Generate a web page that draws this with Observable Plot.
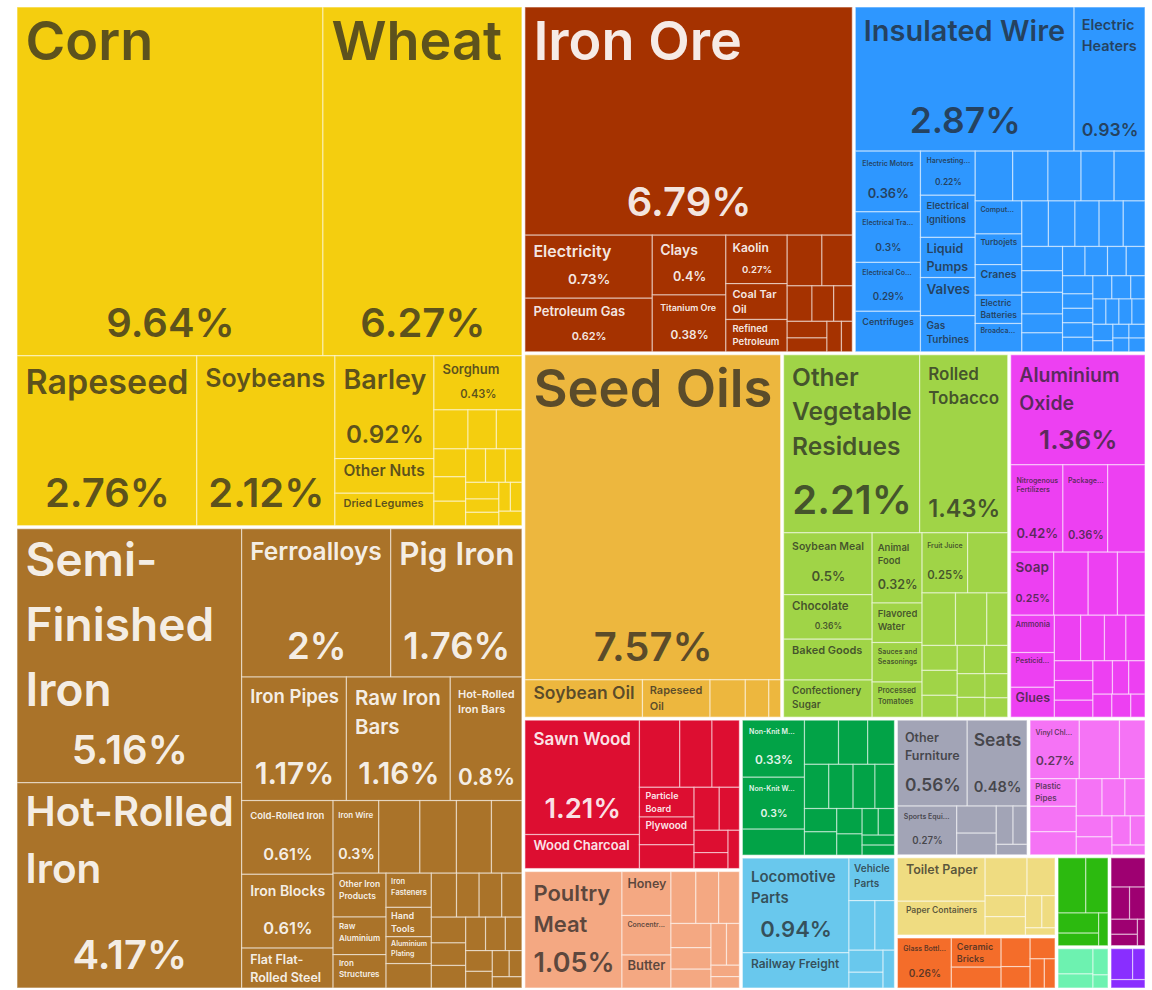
<!DOCTYPE html>
<html><head><meta charset="utf-8">
<script src="https://cdn.jsdelivr.net/npm/d3@7"></script>
<script src="https://cdn.jsdelivr.net/npm/@observablehq/plot@0.6"></script>
<style>body{margin:0;background:#fff}</style>
</head><body><div id="chart"></div>
<script>
// ---------- DATA: product shares (%) by section ----------
const vegetableProducts = [["Corn",9.64],["Wheat",6.27],["Rapeseed",2.76],["Soybeans",2.12],["Barley",0.92],["Other Nuts",0.31],["Dried Legumes",0.29],["Sorghum",0.43],["Peas",0.12],["Frozen Vegetables",0.10],["Oats",0.09],["Buckwheat",0.08],["Wheat Flours",0.07],["Rye",0.07],["Malt",0.06],["Sowing Seeds",0.06],["Onions",0.05],["Frozen Fruits",0.05],["Apples",0.04],["Cereal Meals",0.04],["Millet",0.03],["Dried Fruits",0.03],["Berries",0.03]];
const metals = [["Semi-Finished Iron",5.16],["Hot-Rolled Iron",4.17],["Ferroalloys",2.00],["Pig Iron",1.76],["Iron Pipes",1.17],["Raw Iron Bars",1.16],["Hot-Rolled Iron Bars",0.80],["Cold-Rolled Iron",0.61],["Iron Blocks",0.61],["Flat Flat-Rolled Steel",0.33],["Iron Wire",0.30],["Scrap Iron",0.27],["Coated Flat-Rolled Iron",0.24],["Iron Sheet Piling",0.23],["Iron Railway Products",0.20],["Other Iron Products",0.21],["Raw Aluminium",0.18],["Iron Structures",0.16],["Iron Fasteners",0.14],["Hand Tools",0.12],["Aluminium Plating",0.11],["Copper Wire",0.10],["Stainless Steel Ingots",0.10],["Iron Pipe Fittings",0.09],["Aluminium Bars",0.09],["Iron Cloth",0.08],["Scrap Copper",0.08],["Iron Chain",0.07],["Scrap Aluminium",0.07],["Raw Zinc",0.06],["Iron Springs",0.06],["Aluminium Foil",0.05],["Iron Stovetops",0.05],["Metal Molds",0.04],["Padlocks",0.04],["Raw Lead",0.03],["Iron Nails",0.03]];
const mineralProducts = [["Iron Ore",6.79],["Electricity",0.73],["Petroleum Gas",0.62],["Clays",0.40],["Titanium Ore",0.38],["Kaolin",0.27],["Coal Tar Oil",0.20],["Refined Petroleum",0.18],["Manganese Ore",0.16],["Coke",0.14],["Sand",0.08],["Crude Petroleum",0.07],["Coal Briquettes",0.06],["Gypsum",0.06],["Limestone",0.05],["Cement",0.04],["Salt",0.03]];
const machines = [["Insulated Wire",2.87],["Electric Heaters",0.93],["Electric Motors",0.36],["Electrical Transformers",0.30],["Electrical Control Boards",0.29],["Centrifuges",0.24],["Harvesting Machinery",0.22],["Electrical Ignitions",0.21],["Liquid Pumps",0.20],["Valves",0.19],["Gas Turbines",0.18],["Engine Parts",0.17],["Air Pumps",0.16],["Low-voltage Protection Equipment",0.15],["Refrigerators",0.15],["Ball Bearings",0.14],["Computers",0.14],["Turbojets",0.13],["Cranes",0.13],["Electric Batteries",0.12],["Broadcasting Equipment",0.12],["Other Heating Machinery",0.11],["Excavation Machinery",0.11],["Soil Preparation Machinery",0.10],["Telephones",0.10],["Industrial Printers",0.09],["Machinery Having Individual Functions",0.09],["Spark-Ignition Engines",0.08],["Electric Filament",0.08],["Metalworking Machines",0.07],["Electric Soldering Equipment",0.07],["Washing Machines",0.06],["Interchangeable Tool Parts",0.06],["Semiconductor Devices",0.05],["Integrated Circuits",0.05],["Textile Machinery",0.05],["Transmissions",0.04],["Electric Motor Parts",0.04],["Electric Furnaces",0.04],["Dairy Machinery",0.04],["Scales",0.04],["Pulley Systems",0.04],["Fork-Lifts",0.03],["Sewing Machines",0.03],["Lifting Machinery",0.03],["Capacitors",0.03],["Resistors",0.03],["Microphones and Headphones",0.03],["Video Displays",0.02],["Office Machine Parts",0.02],["Kitchen Machinery",0.02],["Packing Machines",0.02],["Water Heaters",0.02]];
const biProducts = [["Seed Oils",7.57],["Soybean Oil",0.40],["Rapeseed Oil",0.23],["Margarine",0.12],["Animal Fats",0.08],["Glycerol",0.04]];
const foodstuffs = [["Other Vegetable Residues",2.21],["Rolled Tobacco",1.43],["Soybean Meal",0.50],["Chocolate",0.36],["Baked Goods",0.33],["Confectionery Sugar",0.30],["Animal Food",0.32],["Flavored Water",0.18],["Sauces and Seasonings",0.18],["Processed Tomatoes",0.16],["Fruit Juice",0.25],["Beer",0.22],["Hard Liquor",0.16],["Raw Sugar",0.15],["Wine",0.10],["Processed Fish",0.08],["Pasta",0.08],["Prepared Cereals",0.07],["Yeast",0.07],["Ice Cream",0.06],["Coffee and Tea Extracts",0.06],["Other Edible Preparations",0.05],["Molasses",0.05],["Vinegar",0.04]];
const chemicalProducts = [["Aluminium Oxide",1.36],["Nitrogenous Fertilizers",0.42],["Packaged Medicaments",0.36],["Mixed Mineral or Chemical Fertilizers",0.30],["Soap",0.25],["Cleaning Products",0.20],["Hair Products",0.17],["Beauty Products",0.16],["Ammonia",0.15],["Pesticides",0.14],["Glues",0.12],["Paints",0.11],["Titanium Oxides",0.10],["Vaccines",0.09],["Carbonates",0.08],["Activated Carbon",0.07],["Acyclic Alcohols",0.07],["Perfumes",0.06],["Other Inorganic Acids",0.06],["Phosphatic Fertilizers",0.05],["Lubricating Products",0.05],["Ink",0.04],["Sulfates",0.04],["Carbides",0.03]];
const woodProducts = [["Sawn Wood",1.21],["Wood Charcoal",0.36],["Fuel Wood",0.25],["Wood Veneer",0.20],["Veneer Sheets",0.17],["Particle Board",0.15],["Plywood",0.14],["Wooden Builders' Joinery",0.12],["Wood Fiberboard",0.10],["Wood Crates",0.08],["Rough Wood",0.07],["Wood Carpentry",0.05],["Other Wood Articles",0.04]];
const animalProducts = [["Poultry Meat",1.05],["Honey",0.20],["Concentrated Milk",0.18],["Butter",0.15],["Cheese",0.12],["Frozen Bovine Meat",0.11],["Eggs",0.10],["Fish Fillets",0.09],["Pig Meat",0.08],["Whey",0.07],["Edible Offal",0.06],["Milk",0.05],["Frozen Fish",0.03],["Bird Feathers",0.03]];
const textiles = [["Non-Knit Men's Suits",0.33],["Non-Knit Women's Suits",0.30],["Non-Knit Men's Coats",0.15],["Knit T-shirts",0.14],["Non-Knit Women's Coats",0.12],["Non-Knit Women's Undergarments",0.11],["Knit Sweaters",0.10],["Non-Knit Men's Shirts",0.10],["Other Clothing Accessories",0.09],["Felt",0.08],["Synthetic Fabrics",0.07],["Tarpaulins",0.07],["Knit Women's Suits",0.06],["Raw Cotton",0.05],["Babies' Garments",0.04],["Wadding",0.04],["Flax Yarn",0.03],["Twine",0.03]];
const transportation = [["Locomotive Parts",0.94],["Railway Freight",0.35],["Vehicle Parts",0.18],["Railway Passenger Cars",0.12],["Trailers",0.09],["Aircraft Parts",0.07],["Ships",0.05],["Bicycles",0.04]];
const miscellaneous = [["Other Furniture",0.56],["Seats",0.48],["Sports Equipment",0.27],["Lighting Fixtures",0.10],["Mattresses",0.08],["Brooms",0.06],["Prefabricated Buildings",0.05],["Pens",0.03]];
const plasticsRubbers = [["Vinyl Chloride Polymers",0.27],["Plastic Lids",0.22],["Rubber Tires",0.14],["Plastic Pipes",0.12],["Raw Plastic Sheeting",0.11],["Ethylene Polymers",0.10],["Other Plastic Sheetings",0.09],["Plastic Houseware",0.08],["Rubber Belts",0.07],["Propylene Polymers",0.07],["Plastic Wash Basins",0.06],["Rubber Pipes",0.05],["Other Rubber Products",0.04],["Styrene Polymers",0.03]];
const paperGoods = [["Toilet Paper",0.36],["Paper Containers",0.28],["Kraft Paper",0.15],["Paper Labels",0.10],["Coated Paper",0.08],["Paper Notebooks",0.07],["Wallpaper",0.05],["Newspapers",0.04],["Other Paper",0.02]];
const stoneGlass = [["Glass Bottles",0.26],["Ceramic Bricks",0.14],["Float Glass",0.10],["Glass Fibers",0.08],["Building Stone",0.06],["Ceramic Tiles",0.05],["Cement Articles",0.04],["Mica",0.03]];
const footwear = [["Rubber Footwear",0.15],["Leather Footwear",0.12],["Textile Footwear",0.08],["Footwear Parts",0.05],["Hats",0.03]];
const instruments = [["Medical Instruments",0.10],["Orthopedic Appliances",0.06],["Other Measuring Instruments",0.05],["Electricity Meters",0.04],["Optical Fibers",0.03],["Glasses",0.02]];
const animalHides = [["Tanned Bovine Hides",0.09],["Raw Hides",0.05],["Handbags",0.04],["Furskins",0.02]];
const preciousMetals = [["Jewellery",0.07],["Gold",0.04],["Silver",0.03]];

// ---------- STYLE ----------
const sectionStyle = {
  "Vegetable Products": {fill: "#F4CE0F", text: "dark"},
  "Metals": {fill: "#AA7329", text: "light"},
  "Mineral Products": {fill: "#A53200", text: "light"},
  "Machines": {fill: "#2E97FF", text: "dark"},
  "Animal and Vegetable Bi-Products": {fill: "#EDB73E", text: "dark"},
  "Foodstuffs": {fill: "#A0D447", text: "dark"},
  "Chemical Products": {fill: "#ED40F2", text: "dark"},
  "Wood Products": {fill: "#DD0E31", text: "light"},
  "Animal Products": {fill: "#F4A882", text: "dark"},
  "Textiles": {fill: "#02A347", text: "light"},
  "Transportation": {fill: "#69C8ED", text: "dark"},
  "Miscellaneous": {fill: "#A2A4B6", text: "dark"},
  "Plastics and Rubbers": {fill: "#F573F5", text: "dark"},
  "Paper Goods": {fill: "#EFDC81", text: "dark"},
  "Stone and Glass": {fill: "#F46D2A", text: "dark"},
  "Footwear and Headwear": {fill: "#2CBA0F", text: "light"},
  "Instruments": {fill: "#9E0071", text: "light"},
  "Animal Hides": {fill: "#6DF2B0", text: "dark"},
  "Precious Metals": {fill: "#892EFF", text: "light"}
};

// ---------- LAYOUT PLAN (nesting / split directions) ----------
const sections = [
  {name: "Vegetable Products", items: vegetableProducts, plan: ["v", ["h", 2], ["h", 2, ["v", 3], ["v", 1, ["sq", "*"]]]]},
  {name: "Metals", items: metals, plan: ["h", ["v", 2], ["v", ["h", 2], ["h", 3], ["h", ["v", 3], ["v", ["h", 5], ["sq", "*"]]]]]},
  {name: "Mineral Products", items: mineralProducts, plan: ["v", 1, ["h", ["v", 2], ["v", 2], ["v", 3], ["sq", "*"]]]},
  {name: "Machines", items: machines, plan: ["v", ["h", 2], ["sq", "*"]]},
  {name: "Animal and Vegetable Bi-Products", items: biProducts, plan: ["v", 1, ["h", "*"]]},
  {name: "Foodstuffs", items: foodstuffs, plan: ["v", ["h", 2], ["h", ["v", 4], ["v", 4], ["sq", "*"]]]},
  {name: "Chemical Products", items: chemicalProducts, plan: ["v", 1, ["h", 3], ["sq", "*"]]},
  {name: "Wood Products", items: woodProducts, plan: ["h", ["v", 2], ["sq", "*"]]},
  {name: "Animal Products", items: animalProducts, plan: ["h", 1, ["sq", "*"]]},
  {name: "Textiles", items: textiles, plan: ["h", ["v", 3], ["sq", "*"]]},
  {name: "Transportation", items: transportation, plan: ["h", ["v", 2], ["sq", "*"]]},
  {name: "Miscellaneous", items: miscellaneous, plan: ["v", ["h", 2], ["h", 1, ["sq", "*"]]]},
  {name: "Plastics and Rubbers", items: plasticsRubbers, plan: ["v", ["h", 3], ["sq", "*"]]},
  {name: "Paper Goods", items: paperGoods, plan: ["sq", "*"]},
  {name: "Stone and Glass", items: stoneGlass, plan: ["h", 1, ["sq", "*"]]},
  {name: "Footwear and Headwear", items: footwear, plan: ["sq", "*"]},
  {name: "Instruments", items: instruments, plan: ["sq", "*"]},
  {name: "Animal Hides", items: animalHides, plan: ["sq", "*"]},
  {name: "Precious Metals", items: preciousMetals, plan: ["sq", "*"]}
];
const topPlan = ["h",
  ["v", "Vegetable Products", "Metals"],
  ["v",
    ["h", "Mineral Products", "Machines"],
    ["h", "Animal and Vegetable Bi-Products", "Foodstuffs", "Chemical Products"],
    ["h",
      ["v", "Wood Products", "Animal Products"],
      ["v", "Textiles", "Transportation"],
      ["v",
        ["h", "Miscellaneous", "Plastics and Rubbers"],
        ["h", ["v", "Paper Goods", "Stone and Glass"],
              ["h", ["v", "Footwear and Headwear", "Animal Hides"], ["v", "Instruments", "Precious Metals"]]]]]]];

const secByName = Object.fromEntries(sections.map(s => [s.name, s]));
function leafOf(sec, i) { return {kind: "leaf", section: sec.name, name: sec.items[i][0], value: sec.items[i][1]}; }
function buildPlan(spec, sec, st) {
  const [dir, ...kids] = spec; const children = [];
  for (const k of kids) {
    if (typeof k === "number") for (let j = 0; j < k; j++) children.push(leafOf(sec, st.i++));
    else if (k === "*") while (st.i < sec.items.length) children.push(leafOf(sec, st.i++));
    else children.push(buildPlan(k, sec, st));
  }
  return {kind: "sub", dir, children};
}
function buildLayout(spec) {
  if (typeof spec === "string") { const n = buildPlan(secByName[spec].plan, secByName[spec], {i: 0}); n.kind = "section"; n.section = spec; return n; }
  const [dir, ...kids] = spec;
  return {kind: "layout", dir, children: kids.map(buildLayout)};
}
const tree = buildLayout(topPlan);

const W = 1128, H = 981, X0 = 17, Y0 = 7;
function tile(node, x0, y0, x1, y1) {
  const d = node.data.dir;
  if (d === "h") d3.treemapDice(node, x0, y0, x1, y1);
  else if (d === "v") d3.treemapSlice(node, x0, y0, x1, y1);
  else d3.treemapSquarify(node, x0, y0, x1, y1);
}
const root = d3.hierarchy(tree).sum(d => d.kind === "leaf" ? d.value : 0);
d3.treemap().size([W, H]).round(false).tile(tile)
  .paddingInner(n => n.data.kind === "layout" ? 3 : 0)(root);
const leaves = root.leaves();

// ---------- LABEL FITTING ----------
const FONT = "Inter, 'DejaVu Sans', sans-serif", WEIGHT = 600;
const ctx = document.createElement("canvas").getContext("2d");
function tw(s, f) { ctx.font = `${WEIGHT} ${f}px ${FONT}`; return ctx.measureText(s).width; }
const LH = 1.42, MINF = 7, NAME_MAX = 54, SHARE_MAX = 40, WRAP_PENALTY = 0.78;
function wrap(name, f, maxW) {
  const toks = [];
  name.split(" ").forEach((w, i) => w.split(/(?<=-)/).forEach((p, j) => toks.push({p, sp: i > 0 && j === 0})));
  const lines = []; let cur = "";
  for (const {p, sp} of toks) {
    if (tw(p, f) > maxW) return null;
    const cand = cur === "" ? p : cur + (sp ? " " : "") + p;
    if (cur === "" || tw(cand, f) <= maxW) cur = cand;
    else { lines.push(cur); cur = p; }
  }
  lines.push(cur);
  return lines;
}
const textH = (n, f) => f * (1.0 + LH * (n - 1));
const fmt = v => `${+v.toFixed(2)}%`;
const nameLabels = [], shareLabels = [];
for (const l of leaves) {
  const w = l.x1 - l.x0, h = l.y1 - l.y0;
  if (w < 42 || h < 26) continue;
  const st = sectionStyle[l.data.section];
  const color = st.text === "dark" ? "#222" : "#fff";
  const op = st.text === "dark" ? 0.72 : 0.9;
  const padX = Math.min(8, w * 0.1), maxW = w - 2 * padX;
  const padTop = Math.min(12, h * 0.15);
  const share = fmt(l.data.value);
  let showShare = h >= 44, sf = 0;
  if (showShare) { sf = Math.min(SHARE_MAX, 0.27 * h - 3.5, maxW / tw(share, 1)); if (sf < MINF) showShare = false; }
  const sPad = 12 * Math.min(1, h / 60);
  const availH = h - padTop - (showShare ? sf + 2 * sPad : 3);
  let best = null, bestScore = -1;
  for (let f = NAME_MAX; f >= MINF; f -= 0.5) {
    const lines = wrap(l.data.name, f, maxW);
    if (lines && textH(lines.length, f) <= availH) {
      const score = f * Math.pow(WRAP_PENALTY, lines.length - 1);
      if (score > bestScore) { bestScore = score; best = {lines, f}; }
    }
  }
  if (!best && textH(1, MINF) <= availH) {
    let s = l.data.name;
    while (s.length > 2 && tw(s + "...", MINF) > maxW) s = s.slice(0, -1);
    if (s.length > 2) best = {lines: [s.trimEnd() + "..."], f: MINF};
  }
  // Plot places the first line's baseline 0.71*lineHeight em below y for lineAnchor "top"
  if (best) nameLabels.push({x: l.x0 + padX, y: l.y0 + padTop + 0.04 * best.f - 0.71 * (LH - 1) * best.f, text: best.lines.join("\n"), f: best.f, color, op});
  if (showShare && best) shareLabels.push({x: (l.x0 + l.x1) / 2, y: l.y1 - sPad - sf / 2, text: share, f: sf, color, op});
}

const chart = Plot.plot({
  width: 1152, height: 990, margin: 0,
  x: {domain: [0, W], range: [X0, X0 + W], axis: null},
  y: {domain: [0, H], range: [Y0, Y0 + H], axis: null},
  color: {type: "identity"},
  style: {background: "#fff"},
  marks: [
    Plot.rect(leaves, {x1: "x0", x2: "x1", y1: "y0", y2: "y1", fill: d => sectionStyle[d.data.section].fill,
      stroke: "#fff", strokeOpacity: 0.5, strokeWidth: 1.2}),
    Plot.text(nameLabels, {x: "x", y: "y", text: "text", fontSize: "f", fill: "color", fillOpacity: "op",
      textAnchor: "start", lineAnchor: "top", lineHeight: LH, fontWeight: WEIGHT, fontFamily: FONT}),
    Plot.text(shareLabels, {x: "x", y: "y", text: "text", fontSize: "f", fill: "color", fillOpacity: "op",
      textAnchor: "middle", lineAnchor: "middle", fontWeight: WEIGHT, fontFamily: FONT})
  ]
});
document.getElementById("chart").appendChild(chart);
</script></body></html>
